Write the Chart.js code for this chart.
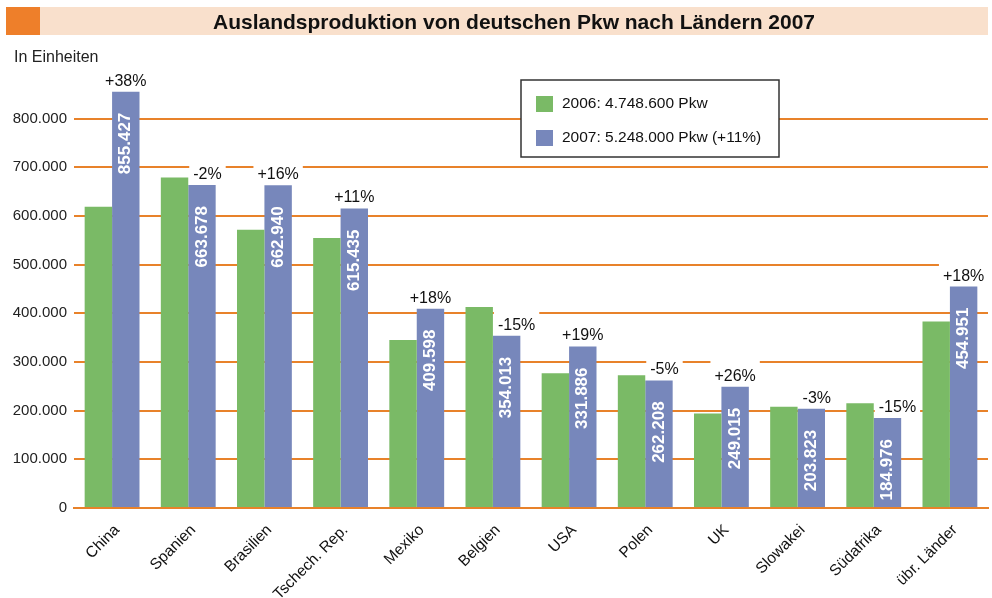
<!DOCTYPE html>
<html>
<head>
<meta charset="utf-8">
<script src="https://cdn.jsdelivr.net/npm/chart.js@4"></script>
<style>
    body { margin: 0; background: #fff; }
    #wrap { position: relative; width: 992px; height: 598px; }
    #einheit {
        position: absolute; left: 14px; top: 48px;
        font: 16px "Liberation Sans Narrow", "Liberation Sans", sans-serif; color: #222;
    }
    canvas { position: absolute; left: 0; top: 0; }
</style>
</head>
<body>
<div id="wrap">
    <canvas id="chartAusland"></canvas>
    <div id="einheit">In Einheiten</div>
</div>
<script>
const titel = 'Auslandsproduktion von deutschen Pkw nach Ländern 2007';
const laender = ['China', 'Spanien', 'Brasilien', 'Tschech. Rep.', 'Mexiko', 'Belgien', 'USA', 'Polen', 'UK', 'Slowakei', 'Südafrika', 'übr. Länder'];
const werte2006 = [619000, 679000, 572000, 555000, 345000, 413000, 277000, 273000, 194000, 208000, 215000, 383000];
const werte2007 = [855427, 663678, 662940, 615435, 409598, 354013, 331886, 262208, 249015, 203823, 184976, 454951];
const veraenderung = ['+38%', '-2%', '+16%', '+11%', '+18%', '-15%', '+19%', '-5%', '+26%', '-3%', '-15%', '+18%'];
const serien = ['2006: 4.748.600 Pkw', '2007: 5.248.000 Pkw (+11%)'];
const yMax = 900000;
const yStep = 100000;

const GRUEN = '#7aba66';
const BLAU = '#7787bb';
const ORANGE = '#e8822a';
const SCHRIFT = '"Liberation Sans", Arial, sans-serif';

function formatDE(n) {
    return String(n).replace(/\B(?=(\d{3})+(?!\d))/g, '.');
}

// Titelleiste oben
const titelLeiste = {
    id: 'titelLeiste',
    beforeDraw(chart) {
        const ctx = chart.ctx;
        ctx.save();
        ctx.fillStyle = '#f9e0cc';
        ctx.fillRect(6, 7, 982, 28);
        ctx.fillStyle = '#ee7f2a';
        ctx.fillRect(6, 7, 34, 28);
        ctx.fillStyle = '#111';
        ctx.font = 'bold 21px ' + SCHRIFT;
        ctx.textAlign = 'center';
        ctx.textBaseline = 'alphabetic';
        ctx.fillText(titel, 514, 28.5, 602);
        ctx.restore();
    }
};

// Prozentwerte ueber den 2007-Balken, mit weissem Hintergrund ueber den Gitterlinien
const balkenBeschriftung = {
    id: 'balkenBeschriftung',
    beforeDatasetsDraw(chart) {
        const ctx = chart.ctx;
        const meta = chart.getDatasetMeta(1);
        ctx.save();
        ctx.font = '16px ' + SCHRIFT;
        ctx.fillStyle = '#fff';
        meta.data.forEach((bar, i) => {
            const t = veraenderung[i];
            const w = ctx.measureText(t).width;
            const links = t.startsWith('-') ? bar.x - bar.width / 2 + 5 : bar.x - w / 2;
            ctx.fillRect(links - 4, bar.y - 27, w + 8, 25);
        });
        ctx.restore();
    },
    afterDatasetsDraw(chart) {
        const ctx = chart.ctx;
        const meta = chart.getDatasetMeta(1);
        ctx.save();
        meta.data.forEach((bar, i) => {
            const t = veraenderung[i];
            ctx.font = '16px ' + SCHRIFT;
            ctx.fillStyle = '#111';
            ctx.textBaseline = 'alphabetic';
            const w = ctx.measureText(t).width;
            const links = t.startsWith('-') ? bar.x - bar.width / 2 + 5 : bar.x - w / 2;
            ctx.textAlign = 'left';
            ctx.fillText(t, links, bar.y - 6);

            ctx.save();
            ctx.translate(bar.x, bar.y + 21);
            ctx.rotate(-Math.PI / 2);
            ctx.font = 'bold 17px ' + SCHRIFT;
            ctx.fillStyle = '#fff';
            ctx.textAlign = 'right';
            ctx.textBaseline = 'middle';
            ctx.fillText(formatDE(werte2007[i]), 0, 0);
            ctx.restore();
        });
        ctx.restore();
    }
};

// Legende als Kasten im Diagramm
const legendenKasten = {
    id: 'legendenKasten',
    afterDraw(chart) {
        const ctx = chart.ctx;
        ctx.save();
        ctx.fillStyle = '#fff';
        ctx.fillRect(521, 80, 258, 77);
        ctx.strokeStyle = '#333';
        ctx.lineWidth = 1.5;
        ctx.strokeRect(521, 80, 258, 77);
        ctx.font = '15.5px ' + SCHRIFT;
        ctx.textBaseline = 'middle';
        chart.data.datasets.forEach((ds, i) => {
            const y = 104 + i * 34;
            ctx.fillStyle = ds.backgroundColor;
            ctx.fillRect(536, y - 8, 17, 16);
            ctx.fillStyle = '#111';
            ctx.fillText(ds.label, 562, y);
        });
        ctx.restore();
    }
};

new Chart(document.getElementById('chartAusland'), {
    type: 'bar',
    data: {
        labels: laender,
        datasets: [
            { label: serien[0], data: werte2006, backgroundColor: GRUEN },
            { label: serien[1], data: werte2007, backgroundColor: BLAU }
        ]
    },
    options: {
        responsive: true,
        maintainAspectRatio: false,
        animation: false,
        categoryPercentage: 0.72,
        barPercentage: 1.0,
        layout: { padding: { top: 70, right: 4, left: 0, bottom: 0 } },
        scales: {
            x: {
                grid: { display: false },
                border: { color: ORANGE, width: 2 },
                ticks: {
                    maxRotation: 45, minRotation: 45, padding: 5, labelOffset: 5,
                    color: '#111', font: { family: SCHRIFT, size: 15.5 }
                },
                afterFit: s => { s.height = 90; }
            },
            y: {
                min: 0, max: yMax,
                border: { display: false },
                grid: {
                    color: c => c.tick.value >= yMax ? 'rgba(0,0,0,0)' : ORANGE,
                    lineWidth: 2, drawTicks: false
                },
                ticks: {
                    stepSize: yStep, padding: 7,
                    color: '#222', font: { family: SCHRIFT, size: 15 },
                    callback: v => v >= yMax ? '' : formatDE(v)
                },
                afterFit: s => { s.width = 74; }
            }
        },
        plugins: {
            legend: { display: false },
            tooltip: { enabled: false }
        }
    },
    plugins: [titelLeiste, balkenBeschriftung, legendenKasten]
});
</script>
</body>
</html>
